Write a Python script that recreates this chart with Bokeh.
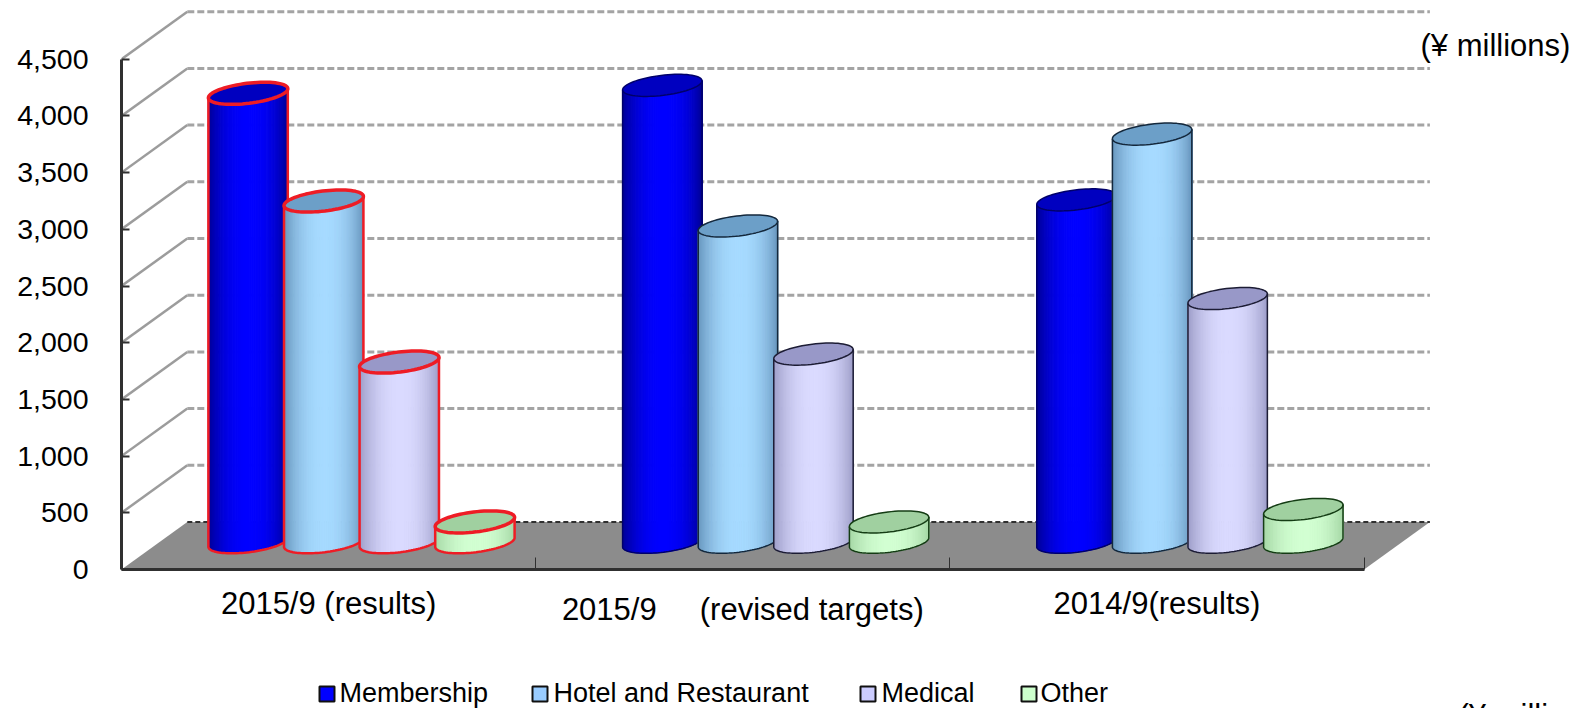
import math

from bokeh.core.properties import value
from bokeh.embed import file_html
from bokeh.models import FixedTicker, NumeralTickFormatter, Range1d
from bokeh.plotting import figure
from bokeh.resources import INLINE

# Chart values
categories = ["2015/9 (results)", "2015/9\u00a0\u00a0\u00a0\u00a0\u00a0(revised targets)", "2014/9(results)"]
series_names = ["Membership", "Hotel and Restaurant", "Medical", "Other"]
membership = [3990, 4060, 3050]
hotel_restaurant = [3040, 2820, 3630]
medical = [1620, 1690, 2180]
other = [210, 210, 320]
y_ticks = [0, 500, 1000, 1500, 2000, 2500, 3000, 3500, 4000, 4500]
category_edges = [0, 1, 2, 3]
unit_note = "(¥ millions)"

# Colours per series: edge shade, centre shade, top cap, legend swatch, outline
edge_colors = [(0, 0, 150), (104, 150, 190), (158, 158, 200), (165, 215, 165)]
centre_colors = [(0, 0, 255), (166, 218, 255), (218, 218, 255), (210, 255, 210)]
cap_colors = ["#0000c0", "#6c9fc8", "#9898c8", "#a0d0a0"]
swatch_colors = ["#0000ff", "#99ccff", "#ccccff", "#ccffcc"]
outline_colors = ["#00006a", "#14283c", "#1c1c34", "#143c14"]
highlight_color = "#ee1c25"

# Plot scales: pixels per category and per unit of value
LEFT_PX, FLOOR_PX = 121, 569
PX_PER_CATEGORY = 414.2
PX_PER_VALUE = 0.1134
DEPTH_X = 65.8 / PX_PER_CATEGORY
DEPTH_Y = 47.5 / PX_PER_VALUE
BAR_OFFSETS = [-0.2738, -0.0912, 0.0912, 0.2738]
RADIUS_PX, MINOR_PX, TILT = 40.0, 10.0, math.radians(7)
BASE_LIFT = 3.5 / PX_PER_VALUE


def page_x(px):
    """Horizontal page position expressed on the category scale."""
    return (px - LEFT_PX) / PX_PER_CATEGORY


def page_y(py):
    """Vertical page position expressed on the value scale."""
    return (FLOOR_PX - py) / PX_PER_VALUE


p = figure(
    width=1587, height=708, output_backend="svg", toolbar_location=None,
    x_range=Range1d(0, page_x(1587)),
    y_range=Range1d(0, page_y(0)),
    min_border_left=LEFT_PX, min_border_right=0, min_border_top=0, min_border_bottom=708 - FLOOR_PX,
    outline_line_color=None,
)
p.grid.visible = False

# Value axis along the front-left edge
yaxis = p.yaxis[0]
yaxis.ticker = FixedTicker(ticks=y_ticks)
yaxis.formatter = NumeralTickFormatter(format="0,0")
yaxis.bounds = (y_ticks[0], y_ticks[-1])
yaxis.axis_line_color = "#303030"
yaxis.axis_line_width = 3
yaxis.major_tick_line_color = "#303030"
yaxis.major_tick_line_width = 2
yaxis.major_tick_in = 8
yaxis.major_tick_out = 0
yaxis.minor_tick_line_color = None
yaxis.major_label_standoff = 33
yaxis.major_label_text_font = "Liberation Sans"
yaxis.major_label_text_font_size = "28.5px"
yaxis.major_label_text_color = "#000000"

# Category axis along the front of the floor
xaxis = p.xaxis[0]
xaxis.ticker = FixedTicker(ticks=category_edges)
xaxis.bounds = (category_edges[0], category_edges[-1])
xaxis.axis_line_color = "#303030"
xaxis.axis_line_width = 3
xaxis.major_tick_line_color = "#303030"
xaxis.major_tick_line_width = 1
xaxis.major_tick_in = 12
xaxis.major_tick_out = 0
xaxis.minor_tick_line_color = None
xaxis.major_label_text_color = None
xaxis.major_label_text_font_size = "1px"

# Floor of the 3-D box
x_end = category_edges[-1]
p.patch([0, x_end, x_end + DEPTH_X, DEPTH_X], [0, 0, DEPTH_Y, DEPTH_Y],
        fill_color="#8c8c8c", line_color=None)
p.line([DEPTH_X, x_end + DEPTH_X], [DEPTH_Y, DEPTH_Y], line_color="#303030",
       line_width=2, line_dash="5 3")

# Side-wall diagonals and dashed back-wall gridlines
walls = [t for t in y_ticks if t > 0]
p.segment([0] * len(walls), walls, [DEPTH_X] * len(walls), [t + DEPTH_Y for t in walls],
          line_color="#9c9c9c", line_width=2.5)
p.segment([DEPTH_X] * len(walls), [t + DEPTH_Y for t in walls],
          [x_end + DEPTH_X] * len(walls), [t + DEPTH_Y for t in walls],
          line_color="#a4a4a4", line_width=3, line_dash="7 3")


def ellipse_point(cx, level, phi):
    """Point on a tilted elliptical section, in data coordinates."""
    ux = RADIUS_PX * math.cos(phi) * math.cos(TILT) - MINOR_PX * math.sin(phi) * math.sin(TILT)
    uy = RADIUS_PX * math.cos(phi) * math.sin(TILT) + MINOR_PX * math.sin(phi) * math.cos(TILT)
    return cx + ux / PX_PER_CATEGORY, level + uy / PX_PER_VALUE


def blend(a, b, t):
    return "#%02x%02x%02x" % tuple(round(a[i] + (b[i] - a[i]) * t) for i in range(3))


def draw_cylinder(cx, val, series, highlighted):
    base = DEPTH_Y / 2 + BASE_LIFT
    top = DEPTH_Y / 2 + val
    # Front of the cylinder as narrow shaded strips
    steps = 64
    xs, ys, colors = [], [], []
    for i in range(steps):
        p0 = math.pi + math.pi * i / steps
        p1 = math.pi + math.pi * (i + 1) / steps
        a, b = ellipse_point(cx, top, p0), ellipse_point(cx, top, p1)
        c, d = ellipse_point(cx, base, p1), ellipse_point(cx, base, p0)
        xs.append([a[0], b[0], c[0], d[0]])
        ys.append([a[1], b[1], c[1], d[1]])
        across = math.cos((p0 + p1) / 2)
        col = blend(edge_colors[series], centre_colors[series], 1 - abs(across) ** 2.2)
        colors.append(col)
    p.patches(xs, ys, fill_color=colors, line_color=colors, line_width=1)

    # Top cap
    ring = [ellipse_point(cx, top, 2 * math.pi * i / 72) for i in range(73)]
    outline = highlight_color if highlighted else outline_colors[series]
    p.patch([q[0] for q in ring], [q[1] for q in ring], fill_color=cap_colors[series],
            line_color=outline, line_width=3.5 if highlighted else 1.5)

    # Silhouette of the sides and the front of the base
    arc = [ellipse_point(cx, base, math.pi + math.pi * i / 48) for i in range(49)]
    right = ellipse_point(cx, top, 0)
    left = ellipse_point(cx, top, math.pi)
    p.line([left[0]] + [q[0] for q in arc] + [right[0]],
           [left[1]] + [q[1] for q in arc] + [right[1]],
           line_color=outline, line_width=2.5 if highlighted else 1.5)


all_series = [membership, hotel_restaurant, medical, other]
for cat in range(len(categories)):
    centre = cat + 0.5 + DEPTH_X / 2
    for s, vals in enumerate(all_series):
        draw_cylinder(centre + BAR_OFFSETS[s], vals[cat], s, cat == 0)


def caption(xs, ys, texts, size, align="left"):
    """Text drawn above the frame's clip, so it can sit outside the plot area."""
    p.text(xs, ys, text=texts, level="overlay", text_align=align, text_baseline="middle",
           text_font=value("Liberation Sans"), text_font_size=size, text_color="#000000")


# Category captions under the floor
caption([i + 0.5 for i in range(3)], [page_y(603), page_y(609), page_y(603)], categories,
        "31px", "center")

# Unit notes, the lower one running off the page
caption([page_x(1420), page_x(1458)], [page_y(45), page_y(715)], [unit_note, unit_note], "31px")

# Legend row
swatch_left = [319, 532, 860, 1021]
label_left = [339, 553, 881, 1040]
swatch_y = 693.5
label_y = 692
p.quad(left=[page_x(v) for v in swatch_left], right=[page_x(v + 15) for v in swatch_left],
       top=[page_y(swatch_y - 7.5)] * 4, bottom=[page_y(swatch_y + 7.5)] * 4, level="overlay",
       fill_color=swatch_colors, line_color="#101010", line_width=2)
caption([page_x(v) for v in label_left], [page_y(label_y)] * 4, series_names, "27px")

open("out.html", "w").write(file_html(p, INLINE))
